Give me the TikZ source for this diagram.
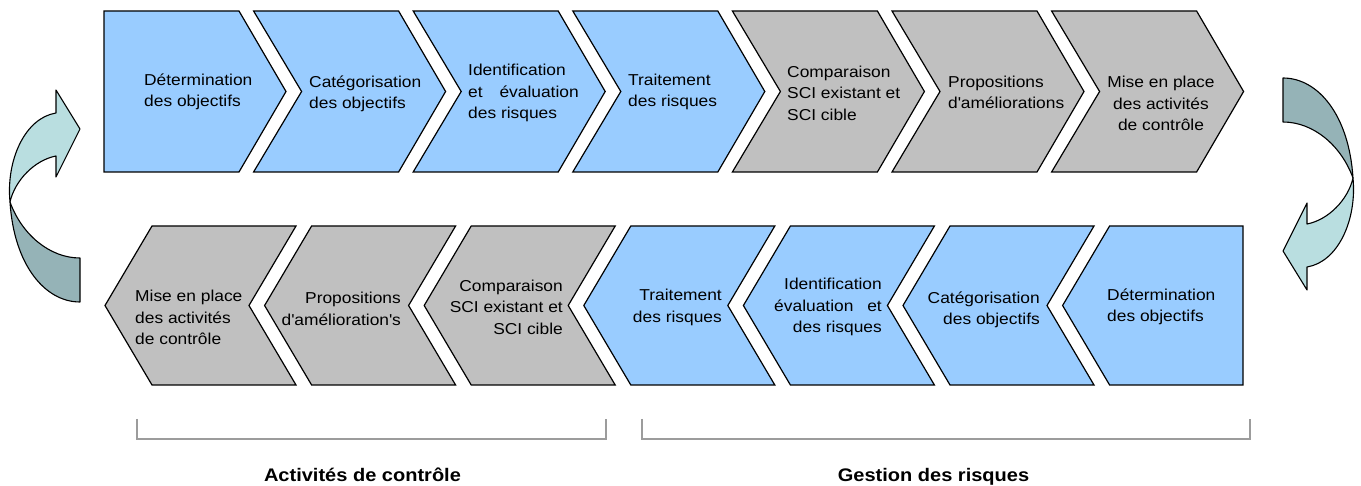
\documentclass[tikz,border=0pt]{standalone}
\usepackage{fontspec}
\setmainfont{Liberation Sans}[FakeStretch=1.1]
\definecolor{chevblue}{HTML}{99CCFF}
\definecolor{chevgray}{HTML}{C0C0C0}
\definecolor{ribbonlight}{HTML}{B9DEE0}
\definecolor{ribbondark}{HTML}{95B3B7}
\definecolor{bracketgray}{HTML}{9C9C9C}
\begin{document}
\begin{tikzpicture}[x=1pt,y=-1pt,
  chev/.style={draw=black, line width=1.2pt, line join=miter},
  bluefill/.style={chev, fill=chevblue},
  grayfill/.style={chev, fill=chevgray},
  ribbon/.style={draw=black, line width=1.1pt, line join=round},
  lbl/.style={font=\fontsize{15.8}{21.5}\selectfont, inner sep=0pt, text=black},
  grouplbl/.style={font=\fontsize{18.2}{22}\selectfont\bfseries, inner sep=0pt, anchor=base},
  bracket/.style={draw=bracketgray, line width=1.6pt}]
\useasboundingbox (0,0) rectangle (1361,486);

% ---- upper row: chevrons pointing right ----
\path[bluefill] (104,11) -- (239,11) -- (286,91.5) -- (239,172) -- (104,172) -- cycle;
\foreach \i/\f in {2/bluefill,3/bluefill,4/bluefill,5/grayfill,6/grayfill,7/grayfill}{
  \pgfmathsetmacro{\t}{286+159.6*(\i-1)}
  \path[\f] (\t-192,11) -- (\t-47,11) -- (\t,91.5) -- (\t-47,172) -- (\t-192,172) -- (\t-144,91.5) -- cycle;
}

% ---- lower row: chevrons pointing left ----
\foreach \i/\f in {1/grayfill,2/grayfill,3/grayfill,4/bluefill,5/bluefill,6/bluefill}{
  \pgfmathsetmacro{\b}{105+159.6*(\i-1)}
  \path[\f] (\b,305.5) -- (\b+47,226) -- (\b+191,226) -- (\b+144,305.5) -- (\b+191,385) -- (\b+47,385) -- cycle;
}
\path[bluefill] (1062.6,305.5) -- (1109.6,226) -- (1243,226) -- (1243,385) -- (1109.6,385) -- cycle;

% ---- texts, upper row ----
\node[lbl, align=left, anchor=west] (t1) at (144,92) {Détermination\\des objectifs};
\node[lbl, align=left, anchor=west] (t2) at (309,94) {Catégorisation\\des objectifs};
\node[lbl, align=left, anchor=west] (t3) at (468,93) {Identification\\et\hspace{12pt} évaluation\\des risques};
\node[lbl, align=left, anchor=west] (t4) at (628,92) {Traitement\\des risques};
\node[lbl, align=left, anchor=west] (t5) at (787,93) {Comparaison\\SCI existant et\\SCI cible};
\node[lbl, align=left, anchor=west] (t6) at (948,92.5) {Propositions\\d\textquotesingle améliorations};
\node[lbl, align=center] (t7) at (1161,103.5) {Mise en place\\des activités\\de contrôle};

% ---- texts, lower row ----
\node[lbl, align=left, anchor=west] (b1) at (135,317.5) {Mise en place\\des activités\\de contrôle};
\node[lbl, align=right, anchor=east] (b2) at (401,309) {Propositions\\d\textquotesingle amélioration\textquotesingle s};
\node[lbl, align=right, anchor=east] (b3) at (563,307) {Comparaison\\SCI existant et\\SCI cible};
\node[lbl, align=right, anchor=east] (b4) at (722,307.5) {Traitement\\des risques};
\node[lbl, align=right, anchor=east] (b5) at (882,307) {Identification\\évaluation\hspace{9pt} et\\des risques};
\node[lbl, align=right, anchor=east] (b6) at (1040,310) {Catégorisation\\des objectifs};
\node[lbl, align=left, anchor=west] (b7) at (1107,307) {Détermination\\des objectifs};

% ---- twisted return arrows ----
\begin{scope}
  \path[ribbon, fill=ribbondark] (10,202) .. controls (14,265) and (45,302) .. (80,302) -- (80,258)
        .. controls (50,258) and (22,235) .. (10,202) -- cycle;
  \path[ribbon, fill=ribbonlight] (56,113) -- (56,90) -- (80,129) -- (56,177) -- (56,156)
        .. controls (35,160) and (15,180) .. (10,202) .. controls (6,160) and (25,118) .. (56,113) -- cycle;
\end{scope}
\begin{scope}[shift={(1363,380)}, xscale=-1, yscale=-1]
  \path[ribbon, fill=ribbondark] (10,202) .. controls (14,265) and (45,302) .. (80,302) -- (80,258)
        .. controls (50,258) and (22,235) .. (10,202) -- cycle;
  \path[ribbon, fill=ribbonlight] (56,113) -- (56,90) -- (80,129) -- (56,177) -- (56,156)
        .. controls (35,160) and (15,180) .. (10,202) .. controls (6,160) and (25,118) .. (56,113) -- cycle;
\end{scope}

% ---- group brackets and captions ----
\coordinate (ctlL) at (137,419);
\coordinate (ctlR) at (606,419);
\coordinate (rskL) at (642,419);
\coordinate (rskR) at (1250,419);
\draw[bracket] (ctlL) -- ++(0,20) -| (ctlR);
\draw[bracket] (rskL) -- ++(0,20) -| (rskR);
\node[grouplbl] (ctl) at (362.5,481) {Activités de contrôle};
\node[grouplbl] (rsk) at (933.5,481) {Gestion des risques};
\end{tikzpicture}
\end{document}
